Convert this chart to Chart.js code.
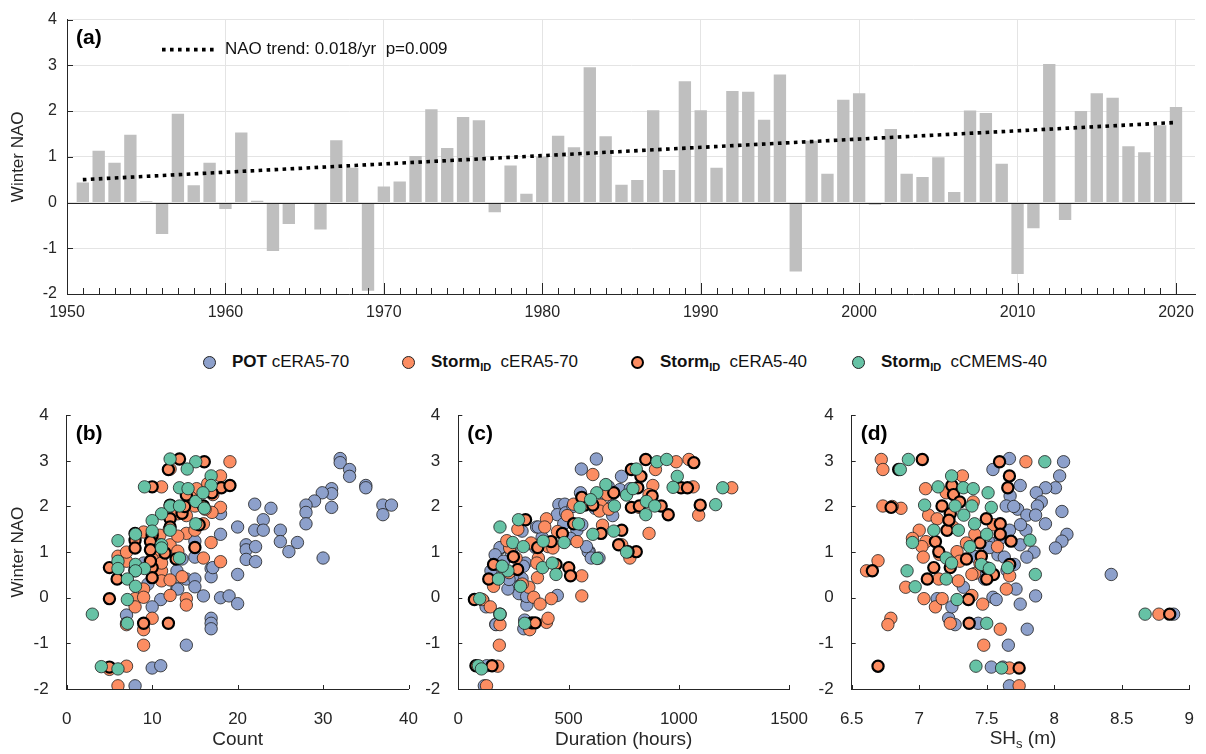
<!DOCTYPE html>
<html>
<head>
<meta charset="utf-8">
<title>Winter NAO and storm statistics</title>
<script src="https://cdn.jsdelivr.net/npm/chart.js@4.4.1/dist/chart.umd.min.js"></script>
<style>
  body { margin: 0; background: #fff; font-family: "Liberation Sans", Arial, Helvetica, sans-serif; color: #262626; }
  #page { position: relative; width: 1206px; height: 754px; overflow: hidden; }
  .panel { position: absolute; }
  .key { position: absolute; top: 352px; height: 20px; display: flex; align-items: center; font-size: 17px; white-space: pre; color: #111; }
  .dot { width: 13px; height: 13px; border-radius: 50%; box-sizing: border-box; border: 1px solid #222; margin-right: 16px; }
  .key sub { font-size: 11px; font-weight: bold; vertical-align: -4px; }
  .xlabel { position: absolute; text-align: center; font-size: 19px; line-height: 22px; color: #262626; }
  .xlabel sub { font-size: 13px; vertical-align: -4px; }
</style>
</head>
<body>
<div id="page">
  <div class="panel" style="left:0;top:0;width:1206px;height:340px"><canvas id="naoBars"></canvas></div>

  <div class="key" style="left:203px"><span class="dot" style="background:#8da0cb"></span><b>POT</b> cERA5-70</div>
  <div class="key" style="left:402px"><span class="dot" style="background:#fc8d62"></span><b>Storm<sub>ID</sub></b>  cERA5-70</div>
  <div class="key" style="left:631px"><span class="dot" style="background:#fc8d62;border:2px solid #000"></span><b>Storm<sub>ID</sub></b>  cERA5-40</div>
  <div class="key" style="left:852px"><span class="dot" style="background:#66c2a5"></span><b>Storm<sub>ID</sub></b>  cCMEMS-40</div>

  <div class="panel" style="left:0;top:395px;width:430px;height:359px"><canvas id="countPanel"></canvas></div>
  <div class="panel" style="left:420px;top:395px;width:400px;height:359px"><canvas id="durationPanel"></canvas></div>
  <div class="panel" style="left:815px;top:395px;width:391px;height:359px"><canvas id="heightPanel"></canvas></div>
  <div class="xlabel" style="left:852px;width:342px;top:727px">SH<sub>s</sub> (m)</div>
</div>

<script>
// winter NAO index, one value per winter
const years = Array.from({length: 70}, (_, i) => 1951 + i);
const naoWinter = [
  0.44, 1.13, 0.87, 1.48, 0.03, -0.69, 1.94, 0.38, 0.87, -0.14,
  1.53, 0.04, -1.06, -0.47, -0.03, -0.59, 1.36, 0.76, -1.93, 0.35,
  0.46, 1.02, 2.04, 1.19, 1.87, 1.80, -0.21, 0.81, 0.19, 1.00,
  1.46, 1.21, 2.96, 1.45, 0.39, 0.49, 2.02, 0.71, 2.65, 2.02,
  0.76, 2.44, 2.42, 1.81, 2.80, -1.51, 1.35, 0.63, 2.25, 2.39,
  -0.05, 1.61, 0.63, 0.56, 0.99, 0.23, 2.01, 1.96, 0.85, -1.56,
  -0.56, 3.03, -0.38, 2.00, 2.39, 2.29, 1.23, 1.10, 1.69, 2.09
];
// least squares trend end points (0.018/yr)
const trendYears = [1951, 2020];
const trendNao = [0.50, 1.75];
const yearTicks = [1950, 1960, 1970, 1980, 1990, 2000, 2010, 2020];

const seriesNames = ['POT cERA5-70', 'StormID cERA5-70', 'StormID cERA5-40', 'StormID cCMEMS-40'];

// (b) number of events per winter vs NAO
const countPot = [
  [32.0,3.05],[32.0,2.96],[33.1,2.81],[33.1,2.66],[35.0,2.46],[35.0,2.41],[31.0,2.39],[31.0,2.28],[29.9,2.30],[29.0,2.12],
  [28.0,2.03],[28.0,1.87],[28.0,1.62],[31.0,1.98],[37.0,2.03],[38.0,2.03],[37.0,1.82],[22.0,2.05],[23.9,1.96],[23.0,1.71],
  [22.0,1.48],[23.0,1.48],[20.0,1.55],[25.0,1.48],[25.0,1.23],[27.0,1.21],[26.0,1.01],[21.0,1.16],[21.0,1.05],[22.1,1.12],
  [21.0,0.84],[22.1,0.79],[30.0,0.87],[20.0,0.51],[18.0,1.84],[18.0,1.39],[15.0,1.24],[15.0,0.89],[16.9,0.64],[16.9,0.46],
  [12.9,0.59],[14.0,0.41],[15.0,0.41],[15.0,0.24],[12.9,0.21],[16.0,0.04],[18.0,0.00],[19.0,0.04],[20.0,-0.13],[11.0,-0.04],
  [10.0,-0.20],[7.0,-0.38],[7.0,-0.56],[16.9,-0.45],[16.9,-0.56],[16.9,-0.68],[14.0,-1.04],[10.0,-1.54],[11.0,-1.49],[8.0,-1.93],
  [17.1,0.66],[13.0,0.19],[11.1,0.90],[9.0,0.76],[12.0,1.05],[13.5,0.85],[9.5,0.30]
];
const countStorm70 = [
  [12.1,2.82],[19.1,2.98],[11.1,2.43],[18.0,2.67],[17.1,2.26],[15.2,2.39],[13.0,1.84],[14.0,1.80],[15.0,2.01],[18.0,1.98],
  [9.0,1.44],[10.9,1.37],[14.0,1.41],[15.0,1.48],[16.0,1.62],[16.9,1.21],[10.9,1.16],[10.9,1.01],[12.1,1.16],[6.0,0.91],
  [16.0,0.87],[18.0,0.79],[5.9,0.64],[7.0,0.80],[8.0,0.59],[11.1,0.59],[11.1,0.37],[12.1,0.39],[8.0,-0.02],[8.0,-0.20],
  [9.0,0.19],[9.0,0.01],[12.1,0.05],[14.0,-0.02],[14.0,-0.16],[7.0,-0.59],[9.0,-0.70],[10.0,-0.45],[9.0,-1.04],[5.0,-1.57],
  [7.0,-1.50],[6.0,-1.93],[13.0,1.02],[12.0,1.50],[14.5,2.20],[16.5,2.50],[10.0,0.85],[7.0,1.00],[13.5,0.46],[17.0,1.87],
  [13.0,1.35],[16.2,1.94],[11.1,0.76]
];
const countStorm40 = [
  [13.2,3.04],[16.1,2.98],[11.9,2.81],[10.0,2.43],[18.1,2.41],[19.1,2.46],[12.1,2.03],[16.0,2.01],[12.1,1.73],[8.0,1.41],
  [10.0,1.37],[12.1,1.55],[8.0,1.26],[8.0,1.09],[9.8,1.23],[9.8,1.05],[5.0,0.66],[5.9,0.41],[10.0,0.66],[10.0,0.44],
  [5.0,-0.02],[9.0,-0.56],[11.9,-0.56],[5.0,-1.52],[13.5,1.85],[15.5,1.60],[14.0,2.25],[17.0,2.30],[12.8,0.85],[8.0,0.60],
  [9.8,0.80],[15.0,1.10],[13.8,2.00],[11.5,0.98]
];
const countCmems = [
  [12.1,3.04],[15.1,2.98],[14.1,2.82],[9.1,2.43],[13.2,2.41],[14.2,2.39],[16.9,2.67],[16.9,2.46],[15.1,2.11],[16.1,1.96],
  [12.1,2.01],[13.2,2.01],[11.1,1.84],[10.0,1.69],[15.1,1.62],[10.0,1.46],[12.1,1.48],[8.05,1.39],[6.0,1.25],[11.1,1.16],
  [11.1,1.09],[13.2,0.87],[6.0,0.80],[6.0,0.64],[8.05,0.73],[9.1,0.64],[8.05,0.59],[7.1,0.41],[8.05,0.25],[7.1,-0.04],
  [3.0,-0.36],[7.1,-0.56],[4.05,-1.51],[6.0,-1.56],[15.95,2.30]
];

// (c) total storm duration per winter vs NAO
const durationPot = [
  [626,3.04],[558,2.82],[554,2.30],[456,2.04],[483,2.05],[449,1.82],[478,1.62],[355,1.55],[289,1.46],[380,1.32],
  [192,1.09],[173,0.89],[158,0.59],[304,0.76],[289,0.42],[260,0.26],[311,-0.02],[311,-0.16],[275,0.09],[449,0.05],
  [170,-0.58],[297,-0.68],[301,-0.49],[594,1.01],[638,0.87],[740,2.66],[733,2.37],[680,2.44],[112,-0.06],[126,-0.20],
  [100,-1.52],[129,-1.49],[118,-1.93],[310,0.03],[189,1.10],[167,0.94],[148,0.59],[247,0.48],[225,0.19],[295,0.69],
  [171,-0.59],[589,1.01],[581,1.12],[538,1.48],[603,0.87],[509,1.30],[487,1.86],[363,1.55],[660,2.29],[700,2.02],
  [520,2.00],[420,1.21],[240,1.00],[205,0.80],[350,1.10],[620,1.96],[780,2.39],[560,1.60],[700,1.80],[230,0.40]
];
const durationStorm70 = [
  [128,-1.93],[186,-1.04],[179,-1.50],[109,-0.04],[145,-0.20],[189,-0.59],[196,0.69],[233,1.09],[262,0.87],[320,0.23],
  [342,0.01],[371,-0.14],[422,-0.02],[560,0.04],[324,-0.70],[400,-0.54],[407,-0.45],[400,1.73],[392,1.55],[407,1.12],
  [363,0.87],[356,0.76],[359,0.44],[429,1.09],[494,1.80],[538,1.23],[560,0.48],[523,2.05],[647,2.03],[654,1.59],
  [741,1.16],[778,0.87],[865,1.41],[821,1.98],[882,2.46],[894,2.81],[988,2.98],[1046,3.03],[1065,2.43],[1090,1.81],
  [1240,2.41],[610,2.70],[676,2.26],[865,2.26],[270,1.50],[230,0.55],[290,0.30],[450,1.45],[640,1.90],[683,1.94],
  [160,0.25],[220,1.25],[330,1.20]
];
const durationStorm40 = [
  [80,-1.49],[153,-1.49],[73,-0.04],[189,-0.36],[138,0.41],[160,0.73],[269,0.62],[305,1.71],[334,-0.55],[349,-0.55],
  [421,1.23],[443,0.73],[472,1.41],[501,0.66],[509,0.48],[523,1.62],[574,2.03],[610,2.03],[705,2.30],[647,1.41],
  [741,1.48],[807,1.01],[785,1.98],[821,2.01],[814,2.41],[785,2.81],[828,2.66],[879,2.23],[850,3.03],[920,2.01],
  [952,1.82],[1068,2.96],[1010,2.41],[1039,2.41],[1097,2.03],[727,1.16],[770,1.01],[560,2.20],[360,1.10],[250,0.90]
];
const durationCmems = [
  [91,-1.49],[105,-1.56],[97,-0.02],[189,-0.36],[301,-0.56],[282,0.25],[247,1.21],[225,0.59],[182,0.41],[189,1.55],
  [273,1.71],[295,1.12],[385,1.24],[382,0.66],[426,0.76],[443,0.51],[480,1.21],[545,1.62],[552,1.98],[610,1.39],
  [629,0.86],[705,1.46],[763,1.00],[669,2.48],[708,2.01],[763,2.25],[807,2.82],[792,2.39],[853,2.11],[891,2.01],
  [850,1.82],[901,2.98],[945,3.03],[993,2.66],[974,2.42],[1167,2.04],[1199,2.41],[199,0.69],[628,2.30],[600,2.15]
];

// (d) mean storm significant wave height per winter vs NAO
const heightPot = [
  [7.668,3.05],[7.546,2.81],[8.069,2.98],[8.040,2.67],[8.009,2.41],[7.936,2.41],[7.867,2.30],[7.748,2.46],[7.673,2.23],[7.904,2.10],
  [7.875,2.01],[7.644,2.01],[7.729,1.94],[7.797,1.81],[7.862,1.81],[7.935,1.62],[8.057,1.89],[8.094,1.39],[8.057,1.24],[8.009,1.09],
  [7.790,1.48],[7.748,1.16],[7.850,1.00],[7.797,0.89],[7.668,1.48],[7.558,1.19],[7.583,0.94],[7.630,0.89],[7.704,0.73],[7.717,0.19],
  [7.862,0.04],[7.748,-0.14],[7.800,-0.69],[7.660,-1.04],[7.534,-1.52],[7.668,-1.93],[8.422,0.51],[8.884,-0.36],[7.546,0.01],[7.570,-0.04],
  [7.485,0.41],[7.266,-0.59],[7.218,-0.45],[7.242,-0.20],[7.133,-0.02],[7.327,0.23],[7.437,-0.56],[7.461,0.59],[7.700,2.00],[7.600,1.30],
  [7.650,0.60],[7.520,1.10],[7.750,1.60],[7.420,0.90],[7.620,-1.52]
];
const heightStorm70 = [
  [6.719,3.03],[6.731,2.81],[7.790,2.98],[7.320,2.67],[7.047,2.39],[6.731,2.01],[6.865,1.96],[7.070,1.81],[7.133,1.73],[7.000,1.48],
  [7.050,1.23],[7.020,1.12],[7.030,0.89],[7.280,1.01],[7.412,1.39],[7.580,1.12],[7.410,0.53],[7.670,0.48],[7.645,0.19],[7.300,0.80],
  [7.145,0.41],[6.900,0.23],[7.035,-0.02],[7.120,-0.20],[7.170,-0.02],[7.390,0.05],[7.470,-0.14],[7.290,0.37],[7.230,-0.56],[7.600,-0.69],
  [7.478,-1.04],[7.668,-1.54],[7.740,-1.93],[6.695,0.81],[6.610,0.59],[6.790,-0.45],[6.768,-0.59],[8.775,-0.36],[7.390,0.51],[6.800,2.00],
  [7.250,1.55],[7.400,2.10],[7.550,1.60],[7.200,2.30],[7.350,1.20],[7.150,0.95],[6.950,1.30],[7.450,0.75]
];
const heightStorm40 = [
  [6.848,2.81],[7.023,3.03],[7.595,2.98],[7.668,2.67],[7.656,2.41],[7.242,2.46],[7.254,2.26],[7.169,2.01],[7.230,1.84],[6.792,1.98],
  [7.120,1.23],[7.206,1.48],[7.145,1.01],[7.497,1.73],[7.600,1.62],[7.600,1.39],[7.680,1.24],[7.460,0.91],[7.550,0.51],[7.500,0.41],
  [7.670,0.73],[7.108,0.66],[7.230,0.66],[7.060,0.41],[7.364,-0.04],[7.370,-0.56],[7.740,-1.54],[6.653,0.59],[6.695,-1.50],[8.855,-0.36],
  [7.300,2.10],[7.450,1.20],[7.350,0.85],[7.220,1.70],[7.500,0.65]
];
const heightCmems = [
  [6.920,3.03],[6.860,2.81],[7.930,2.98],[7.240,2.67],[7.140,2.43],[7.327,2.41],[7.400,2.39],[7.510,2.30],[7.040,2.03],[7.266,2.01],
  [7.390,2.01],[7.534,1.98],[7.330,1.81],[7.410,1.62],[7.108,1.48],[7.290,1.48],[7.500,1.39],[6.950,1.21],[7.375,1.12],[7.200,0.87],
  [7.240,0.76],[7.460,0.73],[7.520,0.64],[7.655,0.66],[7.820,1.26],[6.910,0.59],[6.970,0.24],[7.200,0.41],[7.280,-0.04],[7.500,-0.56],
  [7.860,0.51],[7.420,-1.50],[7.610,-1.54],[8.673,-0.36]
];

const FONT = '"Liberation Sans", Arial, Helvetica, sans-serif';
Chart.defaults.font.family = FONT;
Chart.defaults.color = '#262626';
Chart.defaults.animation = false;

// marker look per series; lower order is painted on top
const seriesStyle = [
  {fill: '#8da0cb', edge: '#1e1e1e', edgeWidth: 0.8, radius: 6.2, order: 4},
  {fill: '#fc8d62', edge: '#1e1e1e', edgeWidth: 0.8, radius: 6.2, order: 3},
  {fill: '#fc8d62', edge: '#000000', edgeWidth: 2.2, radius: 5.6, order: 2},
  {fill: '#66c2a5', edge: '#1e1e1e', edgeWidth: 0.8, radius: 6.2, order: 1}
];

// ticks pointing into the plot, panel letter, optional zero line
const axesDecor = {
  id: 'axesDecor',
  afterDatasetsDraw(chart, args, o) {
    const {ctx, chartArea: a, scales: {x, y}} = chart;
    ctx.save();
    ctx.strokeStyle = '#262626';
    ctx.lineWidth = 1;
    ctx.beginPath();
    if (o.zeroLine) {
      const py = Math.round(y.getPixelForValue(0)) + 0.5;
      ctx.moveTo(a.left, py);
      ctx.lineTo(a.right, py);
    }
    (o.minorX || []).forEach(v => {
      const px = Math.round(x.getPixelForValue(v)) + 0.5;
      ctx.moveTo(px, a.bottom);
      ctx.lineTo(px, a.bottom - o.minorLen);
    });
    x.ticks.forEach(t => {
      const px = Math.round(x.getPixelForValue(t.value)) + 0.5;
      ctx.moveTo(px, a.bottom);
      ctx.lineTo(px, a.bottom - o.xLen);
    });
    y.ticks.forEach(t => {
      const py = Math.round(y.getPixelForValue(t.value)) + 0.5;
      ctx.moveTo(a.left, py);
      ctx.lineTo(a.left + o.yLen, py);
    });
    ctx.stroke();
    ctx.fillStyle = '#000';
    ctx.font = 'bold 21px ' + FONT;
    ctx.textBaseline = 'middle';
    ctx.fillText(o.tag, a.left + 9, a.top + 19);
    ctx.restore();
  }
};

// legend entry for the dotted trend line
const trendKey = {
  id: 'trendKey',
  afterDraw(chart, args, o) {
    const {ctx, chartArea: a} = chart;
    const ly = a.top + 30;
    ctx.save();
    ctx.strokeStyle = '#000';
    ctx.lineWidth = 3.6;
    ctx.setLineDash([3.6, 4.4]);
    ctx.beginPath();
    ctx.moveTo(a.left + 95, ly);
    ctx.lineTo(a.left + 148, ly);
    ctx.stroke();
    ctx.setLineDash([]);
    ctx.fillStyle = '#111';
    ctx.font = '17px ' + FONT;
    ctx.textBaseline = 'middle';
    ctx.fillText(o.text, a.left + 158, ly);
    ctx.restore();
  }
};

// (a) winter NAO bars with trend
new Chart(document.getElementById('naoBars'), {
  type: 'bar',
  data: {
    datasets: [
      {
        type: 'line',
        data: trendYears.map((yr, i) => ({x: yr, y: trendNao[i]})),
        borderColor: '#000',
        borderWidth: 3.6,
        borderDash: [3.6, 4.4],
        pointRadius: 0,
        order: 0
      },
      {
        type: 'bar',
        data: years.map((yr, i) => ({x: yr, y: naoWinter[i]})),
        backgroundColor: '#bfbfbf',
        barPercentage: 0.78,
        categoryPercentage: 1,
        order: 1
      }
    ]
  },
  options: {
    responsive: true,
    maintainAspectRatio: false,
    layout: {padding: {top: 14, right: 11, left: 0, bottom: 0}},
    plugins: {
      legend: {display: false},
      tooltip: {enabled: false},
      axesDecor: {tag: '(a)', zeroLine: true, minorX: years.concat([1950]), minorLen: 6, xLen: 11, yLen: 6},
      trendKey: {text: 'NAO trend: 0.018/yr  p=0.009'}
    },
    scales: {
      x: {
        type: 'linear', min: 1950, max: 2021.2, offset: false,
        grid: {color: '#e4e4e4', drawTicks: false, offset: false},
        border: {color: '#262626'},
        afterBuildTicks: s => { s.ticks = yearTicks.map(v => ({value: v})); },
        ticks: {padding: 9, font: {size: 16}, maxRotation: 0, callback: v => String(v)},
        afterFit: s => { s.height = 46; }
      },
      y: {
        min: -2, max: 4,
        grid: {color: '#e4e4e4', drawTicks: false},
        border: {color: '#262626'},
        ticks: {stepSize: 1, padding: 10, font: {size: 16}, callback: v => String(v)},
        title: {display: true, text: 'Winter NAO', font: {size: 17}, padding: {top: 8, bottom: 0}},
        afterFit: s => { s.width = 67; }
      }
    }
  },
  plugins: [axesDecor, trendKey]
});

// (b)-(d) scatter of a storm metric against winter NAO
function scatterPanel(canvasId, p) {
  new Chart(document.getElementById(canvasId), {
    type: 'scatter',
    data: {
      datasets: p.series.map((pts, i) => ({
        label: seriesNames[i],
        data: pts.map(q => ({x: q[0], y: q[1]})),
        backgroundColor: seriesStyle[i].fill,
        borderColor: seriesStyle[i].edge,
        borderWidth: seriesStyle[i].edgeWidth,
        pointRadius: seriesStyle[i].radius,
        order: seriesStyle[i].order
      }))
    },
    options: {
      responsive: true,
      maintainAspectRatio: false,
      layout: {padding: {top: 14, right: p.padRight, left: 0, bottom: 0}},
      plugins: {
        legend: {display: false},
        tooltip: {enabled: false},
        axesDecor: {tag: p.tag, xLen: 4, yLen: 4}
      },
      scales: {
        x: {
          type: 'linear', min: p.xMin, max: p.xMax,
          grid: {display: false},
          border: {color: '#262626'},
          ticks: {stepSize: p.xStep, padding: 12, font: {size: 17}, maxRotation: 0, callback: v => String(v)},
          title: {display: !!p.xTitle, text: p.xTitle, font: {size: 19}, padding: {top: 0, bottom: 3}},
          afterFit: s => { s.height = 65; }
        },
        y: {
          min: -2, max: 4,
          grid: {display: false},
          border: {color: '#262626'},
          ticks: {stepSize: 1, padding: 10, font: {size: 17}, callback: v => String(v)},
          title: {display: !!p.yTitle, text: p.yTitle, font: {size: 17}, padding: {top: 8, bottom: 0}},
          afterFit: s => { s.width = p.yWidth; }
        }
      }
    },
    plugins: [axesDecor]
  });
}

scatterPanel('countPanel', {
  tag: '(b)', xMin: 0, xMax: 40, xStep: 10, xTitle: 'Count', yTitle: 'Winter NAO',
  yWidth: 66.7, padRight: 20.7,
  series: [countPot, countStorm70, countStorm40, countCmems]
});
scatterPanel('durationPanel', {
  tag: '(c)', xMin: 0, xMax: 1500, xStep: 500, xTitle: 'Duration (hours)', yTitle: '',
  yWidth: 38.3, padRight: 17.7,
  series: [durationPot, durationStorm70, durationStorm40, durationCmems]
});
scatterPanel('heightPanel', {
  tag: '(d)', xMin: 6.5, xMax: 9, xStep: 0.5, xTitle: '', yTitle: '',
  yWidth: 36.7, padRight: 12,
  series: [heightPot, heightStorm70, heightStorm40, heightCmems]
});
</script>
</body>
</html>
